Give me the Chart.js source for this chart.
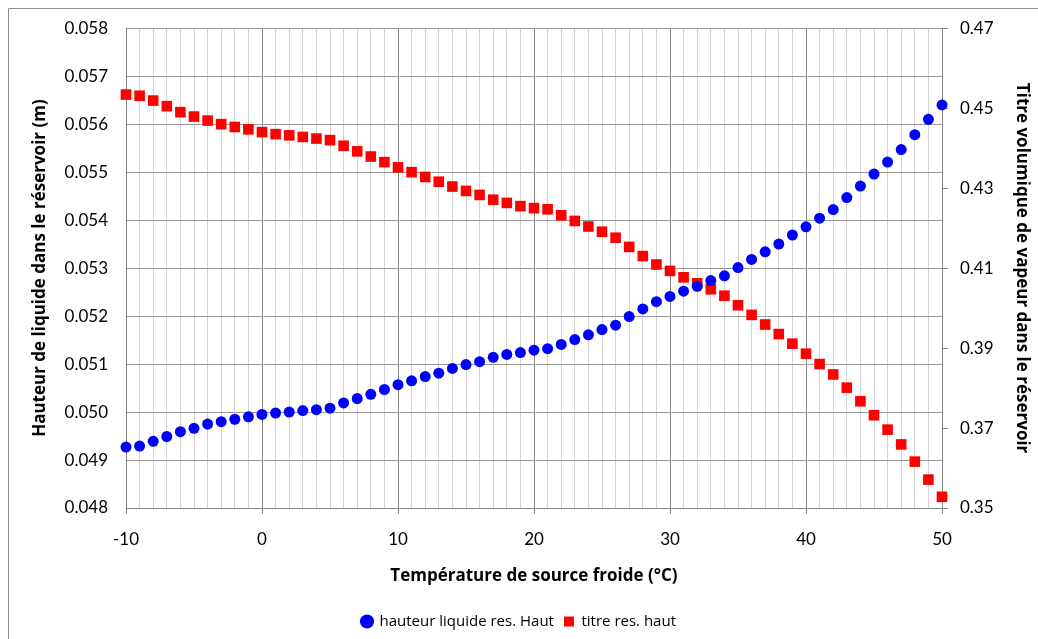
<!DOCTYPE html>
<html>
<head>
<meta charset="utf-8">
<script src="https://cdn.jsdelivr.net/npm/chart.js@4"></script>
<style>
  html, body { margin: 0; padding: 0; background: #fff; overflow: hidden; }
  #wrap { position: relative; width: 1038px; height: 639px; }
</style>
</head>
<body>
<div id="wrap"><canvas id="chart" width="1038" height="639"></canvas></div>
<script>
const temperatures = [];
for (let t = -10; t <= 50; t++) temperatures.push(t);

// hauteur liquide res. Haut (m) - left axis
const hauteurLiquide = [
  0.04927, 0.04929, 0.04939, 0.04949, 0.04959, 0.04966, 0.04975, 0.04980, 0.04985, 0.04990,
  0.04995, 0.04998, 0.05000, 0.05003, 0.05005, 0.05008, 0.05019, 0.05028, 0.05037, 0.05047,
  0.05057, 0.05065, 0.05074, 0.05081, 0.05091, 0.05099, 0.05105, 0.05114, 0.05120, 0.05124,
  0.05129, 0.05132, 0.05141, 0.05151, 0.05161, 0.05172, 0.05181, 0.05199, 0.05215, 0.05230,
  0.05241, 0.05252, 0.05262, 0.05274, 0.05284, 0.05301, 0.05318, 0.05334, 0.05350, 0.05369,
  0.05386, 0.05404, 0.05422, 0.05447, 0.05471, 0.05496, 0.05521, 0.05547, 0.05578, 0.05610,
  0.05640
];

// titre res. haut - right axis
const titreVapeur = [
  0.4534, 0.4531, 0.4519, 0.4505, 0.4490, 0.4479, 0.4469, 0.4460, 0.4453, 0.4447,
  0.4440, 0.4435, 0.4432, 0.4428, 0.4424, 0.4420, 0.4406, 0.4392, 0.4379, 0.4365,
  0.4352, 0.4340, 0.4328, 0.4316, 0.4304, 0.4293, 0.4283, 0.4271, 0.4263, 0.4255,
  0.4250, 0.4247, 0.4232, 0.4218, 0.4204, 0.4191, 0.4176, 0.4153, 0.4130, 0.4109,
  0.4093, 0.4077, 0.4062, 0.4047, 0.4031, 0.4007, 0.3983, 0.3959, 0.3935, 0.3911,
  0.3886, 0.3860, 0.3834, 0.3801, 0.3767, 0.3732, 0.3696, 0.3659, 0.3616, 0.3571,
  0.3528
];

const FONT = 'Lato, "DejaVu Sans", sans-serif';
const TITLE_FONT = '"Open Sans", Lato, sans-serif';

// thin frame around the chart area, like the spreadsheet chart border
const frame = {
  id: 'frame',
  beforeDraw(chart) {
    const ctx = chart.ctx;
    ctx.save();
    ctx.strokeStyle = '#8c8c8c';
    ctx.lineWidth = 1;
    ctx.beginPath();
    ctx.moveTo(8.5, chart.height + 5);
    ctx.lineTo(8.5, 8.5);
    ctx.lineTo(chart.width + 5, 8.5);
    ctx.stroke();
    ctx.restore();
  }
};

new Chart(document.getElementById('chart'), {
  type: 'scatter',
  data: {
    datasets: [{
      label: 'hauteur liquide res. Haut',
      data: temperatures.map((t, i) => ({ x: t, y: hauteurLiquide[i] })),
      yAxisID: 'y',
      pointStyle: 'circle',
      pointRadius: 5.5,
      pointHoverRadius: 5.5,
      backgroundColor: '#0000ff',
      borderColor: '#0000ff',
      borderWidth: 0,
      clip: false
    }, {
      label: 'titre res. haut',
      data: temperatures.map((t, i) => ({ x: t, y: titreVapeur[i] })),
      yAxisID: 'y1',
      pointStyle: 'rect',
      pointRadius: 7.5,
      pointHoverRadius: 7.5,
      backgroundColor: '#ff0000',
      borderColor: '#ff0000',
      borderWidth: 0,
      clip: false
    }]
  },
  options: {
    responsive: false,
    animation: false,
    layout: {
      padding: { top: 28, left: 0, right: 0, bottom: 0 }
    },
    plugins: {
      tooltip: { enabled: false },
      legend: {
        position: 'bottom',
        labels: {
          usePointStyle: true,
          boxWidth: 10,
          boxHeight: 10,
          padding: 10,
          color: '#000',
          font: { family: TITLE_FONT, size: 15 }
        }
      }
    },
    scales: {
      x: {
        type: 'linear',
        min: -10,
        max: 50,
        afterFit: scale => { scale.height = 96; },
        ticks: {
          stepSize: 1,
          autoSkip: false,
          maxRotation: 0,
          padding: 15,
          color: '#000',
          font: { family: FONT, size: 17 },
          callback: v => (v % 10 === 0 ? v : '')
        },
        grid: {
          color: ctx => (ctx.tick && ctx.tick.value % 10 === 0 ? '#868686' : '#d2d2d2'),
          tickColor: ctx => (ctx.tick && ctx.tick.value % 10 === 0 ? '#868686' : 'rgba(0,0,0,0)'),
          tickLength: 6
        },
        border: { color: '#868686' },
        title: {
          display: true,
          text: 'Température de source froide (°C)',
          color: '#000',
          font: { family: TITLE_FONT, size: 17, weight: 'bold' },
          padding: { top: 0, bottom: 18 }
        }
      },
      y: {
        position: 'left',
        min: 0.048,
        max: 0.058,
        afterFit: scale => { scale.width = 126; },
        ticks: {
          stepSize: 0.001,
          padding: 18,
          color: '#000',
          font: { family: FONT, size: 17 },
          callback: v => v.toFixed(3)
        },
        grid: {
          color: '#9a9a9a',
          drawTicks: false
        },
        border: { color: '#868686' },
        title: {
          display: true,
          text: 'Hauteur de liquide dans le réservoir (m)',
          color: '#000',
          font: { family: TITLE_FONT, size: 17, weight: 'bold' },
          padding: { top: 30, bottom: 0 }
        }
      },
      y1: {
        position: 'right',
        min: 0.35,
        max: 0.47,
        afterFit: scale => { scale.width = 96; },
        ticks: {
          stepSize: 0.02,
          padding: 12,
          color: '#000',
          font: { family: FONT, size: 17 },
          callback: v => v.toFixed(2)
        },
        grid: {
          drawOnChartArea: false,
          color: '#868686',
          tickLength: 6
        },
        border: { color: '#868686' },
        title: {
          display: true,
          text: 'Titre volumique de vapeur dans le réservoir',
          color: '#000',
          font: { family: TITLE_FONT, size: 17, weight: 'bold' },
          padding: { top: 6, bottom: 0 }
        }
      }
    }
  },
  plugins: [frame]
});
</script>
</body>
</html>
